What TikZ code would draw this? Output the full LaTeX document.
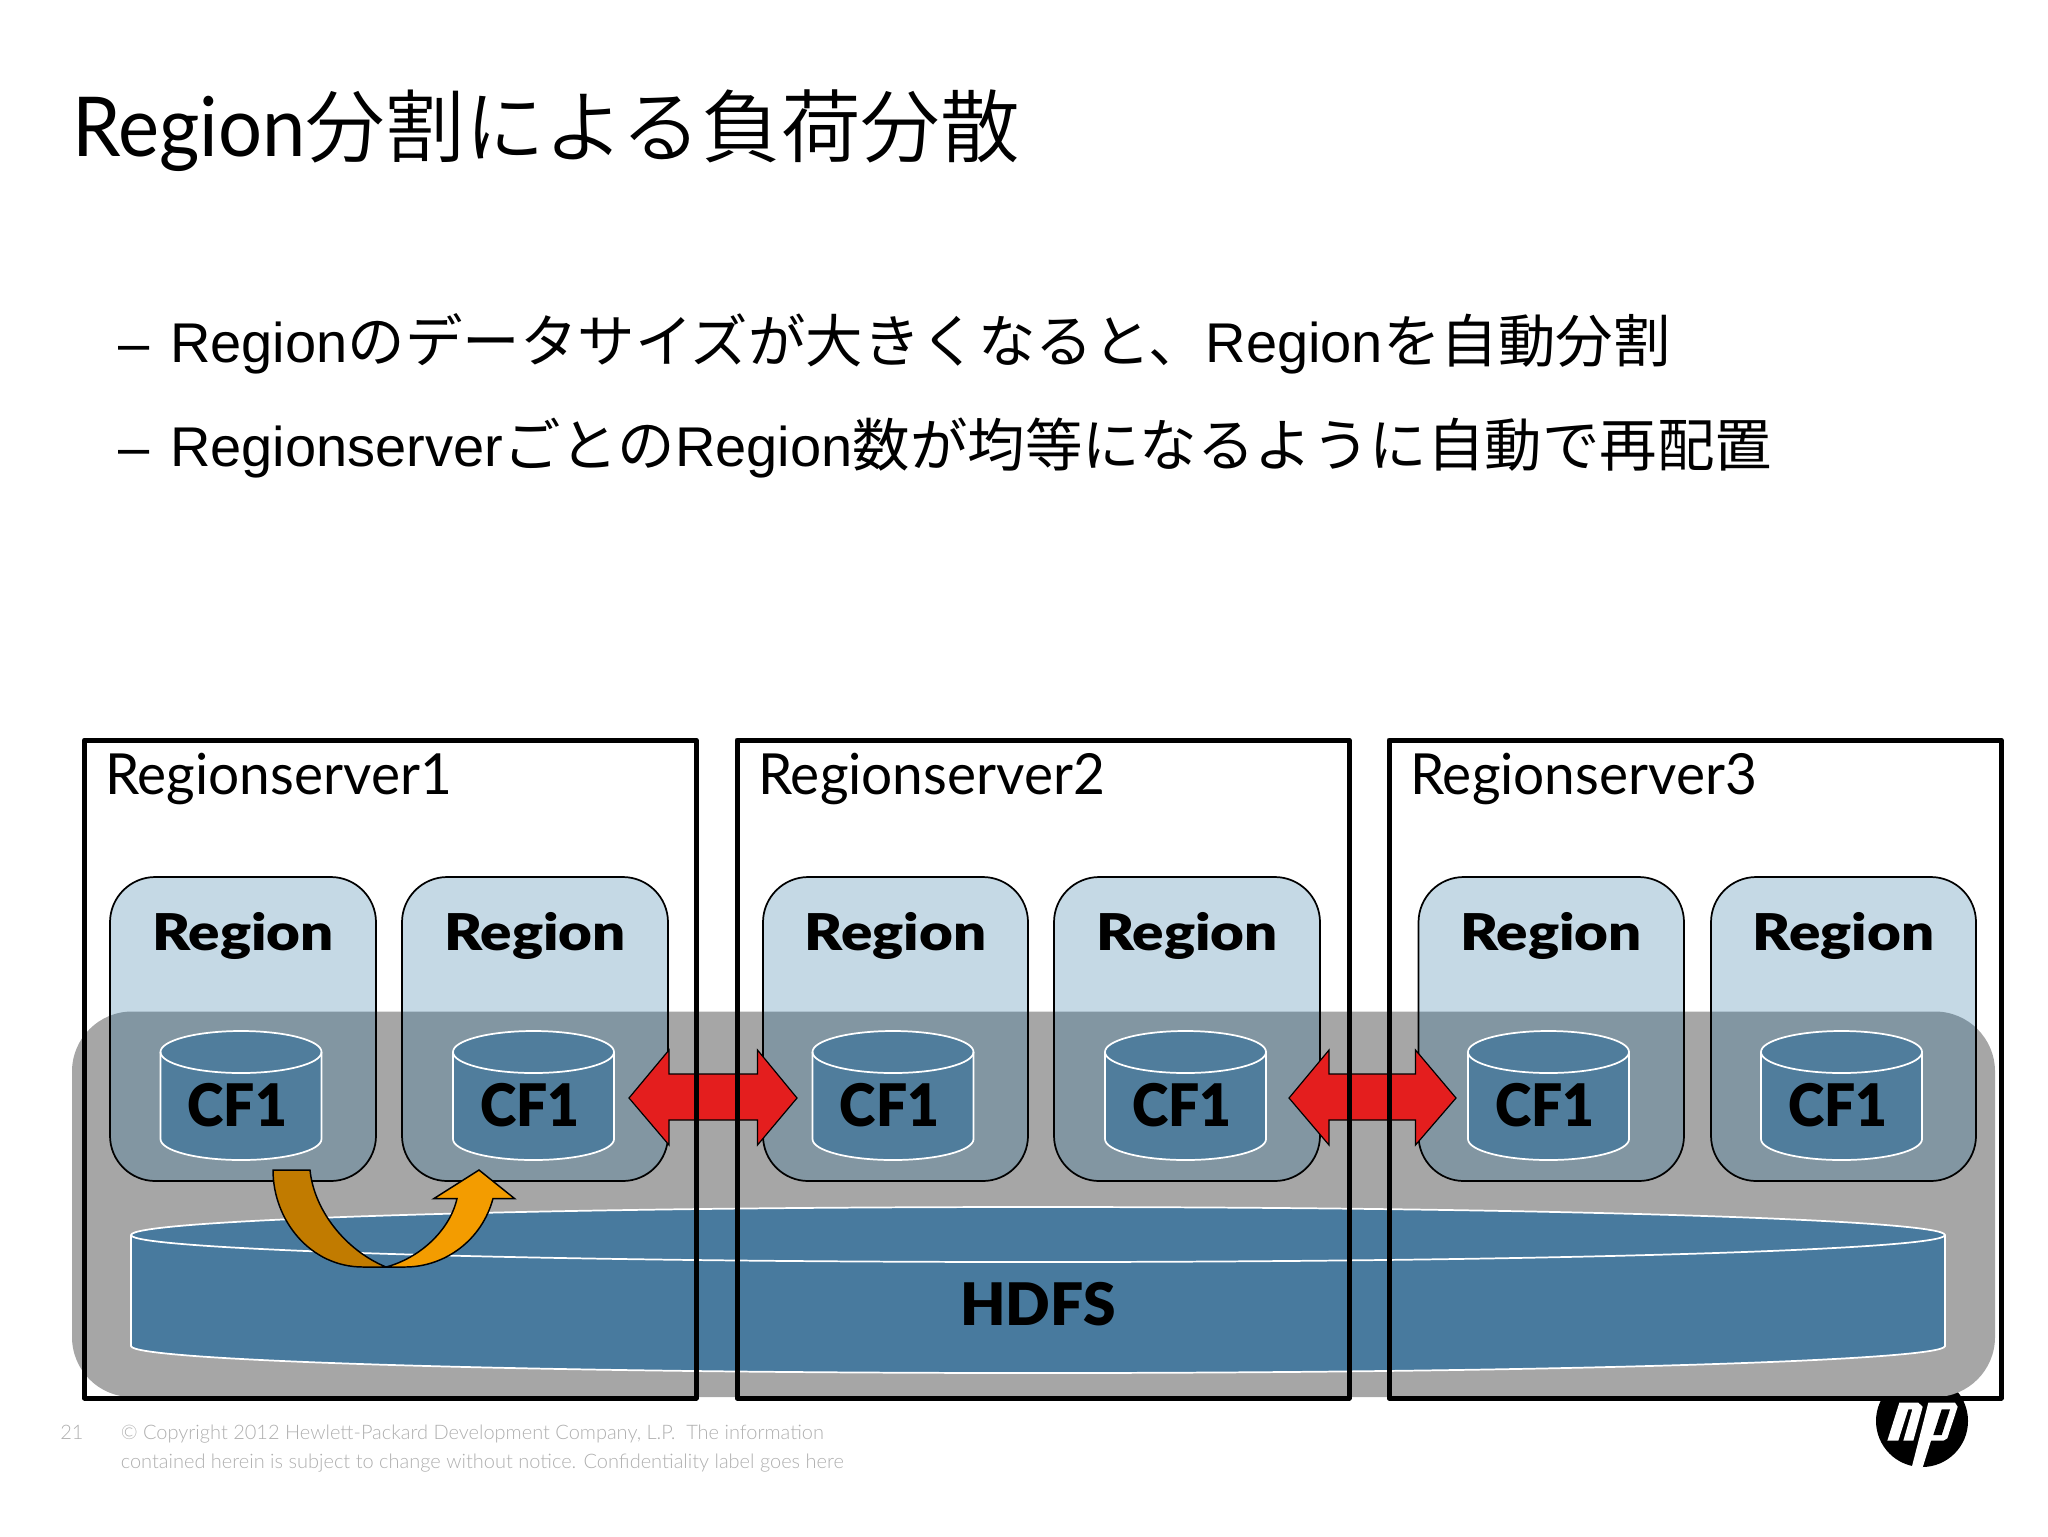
\documentclass[tikz,border=0pt]{standalone}
\usepackage{fontspec}
\setmainfont{Liberation Sans}
\newfontfamily\jpfont{Noto Sans CJK JP}
\newfontfamily\jptitlefont{Noto Sans CJK JP DemiLight}
\newfontfamily\titlefont[FakeStretch=0.94]{Lato}
\newfontfamily\thinfont[FakeStretch=0.97]{Lato}
\newfontfamily\lightfont{Lato Light}
\newfontfamily\heavyfont[FakeStretch=1.15]{Lato Black}
\newfontfamily\cffont[FakeStretch=0.94]{Lato Black}
\newfontfamily\hdfsfont{Lato Black}
\tikzset{
  txt/.style={inner sep=0pt,anchor=base west},
  titletxt/.style={txt,font=\fontsize{59.7}{70}\selectfont},
  bullettxt/.style={txt,font=\fontsize{42}{50}\selectfont},
  servertxt/.style={txt,font=\thinfont\fontsize{42.5}{50}\selectfont},
  regiontxt/.style={inner sep=0pt,anchor=base,font=\heavyfont\fontsize{38}{46}\selectfont},
  cftxt/.style={inner sep=0pt,anchor=base,font=\cffont\fontsize{44}{52}\selectfont},
  hdfstxt/.style={inner sep=0pt,anchor=base,font=\hdfsfont\fontsize{44}{52}\selectfont},
  foottxt/.style={txt,text={rgb, 255:red, 175; green, 175; blue, 175 },font=\lightfont\fontsize{15}{18}\selectfont},
  backbox/.style={fill={rgb, 255:red, 166; green, 166; blue, 166 },rounded corners=45pt},
  serverbox/.style={draw=black,line width=3.75pt,line join=round},
  regionbox/.style={draw=black,line width=1.3pt,rounded corners=34pt,fill={rgb, 255:red, 24; green, 104; blue, 152 },fill opacity=0.25},
  can/.style={draw=white,line width=1.3pt,fill={rgb, 255:red, 80; green, 125; blue, 156 }},
  rim/.style={draw=white,line width=1.3pt},
  bigcan/.style={draw=white,line width=1.3pt,fill={rgb, 255:red, 72; green, 122; blue, 158 }},
  redarrow/.style={draw=black,line width=0.9pt,line join=miter,fill={rgb, 255:red, 228; green, 30; blue, 30 }},
  brownarrow/.style={draw=black,line width=1.1pt,fill={rgb, 255:red, 193; green, 123; blue, 0 }},
  orangearrow/.style={draw=black,line width=1.1pt,fill={rgb, 255:red, 243; green, 156; blue, 0 }}
}
\begin{document}
\begin{tikzpicture}[x=0.75pt,y=0.75pt,yscale=-1,xscale=1]
\useasboundingbox (0,0) rectangle (2048,1536);

%Shape: Logo
\fill [black] (1922,1421) circle [radius=46];
\fill [white] (1899.3,1402.7) -- (1918.3,1402.7) -- (1922.7,1406.7) -- (1913.3,1440.7) -- (1903.3,1440.7) -- (1912.3,1409.3) -- (1908.3,1409.3) -- (1898.3,1440.7) -- (1887.3,1440.7) -- cycle ;
\fill [white] (1928.3,1402.7) -- (1955,1402.7) -- (1957.7,1406.7) -- (1947.3,1438.3) -- (1943.3,1440.7) -- (1931,1440.7) -- (1922.7,1467.3) -- (1911.7,1467.3) -- cycle ;
\fill [black] (1941.7,1409.3) -- (1950,1409.3) -- (1941.7,1435) -- (1933.3,1435) -- cycle ;

%Shape: Rectangle
\fill [backbox] (72,1011.5) rectangle (1995,1397) ;

%Shape: Can
\draw [bigcan] (131,1235) .. controls (131,1219.5) and (537,1207) .. (1038,1207) .. controls (1539,1207) and (1945,1219.5) .. (1945,1235) -- (1945,1346) .. controls (1945,1361) and (1539,1373) .. (1038,1373) .. controls (537,1373) and (131,1361) .. (131,1346) -- cycle ;
\draw [rim] (1945,1235) .. controls (1945,1250) and (1539,1262) .. (1038,1262) .. controls (537,1262) and (131,1250) .. (131,1235) ;

%Shape: Rounded Rectangle
\draw [regionbox] (110,877) rectangle (376,1181) ;
\draw [regionbox] (402,877) rectangle (668,1181) ;
\draw [regionbox] (763,877) rectangle (1028,1181) ;
\draw [regionbox] (1054,877) rectangle (1320,1181) ;
\draw [regionbox] (1418.5,877) rectangle (1684,1181) ;
\draw [regionbox] (1711,877) rectangle (1976,1181) ;

%Shape: Can
\draw [can] (160.5,1052) .. controls (160.5,1040.4) and (196.5,1031) .. (241,1031) .. controls (285.5,1031) and (321.5,1040.4) .. (321.5,1052) -- (321.5,1139) .. controls (321.5,1150.6) and (285.5,1160) .. (241,1160) .. controls (196.5,1160) and (160.5,1150.6) .. (160.5,1139) -- cycle ;
\draw [rim] (321.5,1052) .. controls (321.5,1063.6) and (285.5,1073) .. (241,1073) .. controls (196.5,1073) and (160.5,1063.6) .. (160.5,1052) ;
\draw [can] (453,1052) .. controls (453,1040.4) and (489,1031) .. (533.5,1031) .. controls (578,1031) and (614,1040.4) .. (614,1052) -- (614,1139) .. controls (614,1150.6) and (578,1160) .. (533.5,1160) .. controls (489,1160) and (453,1150.6) .. (453,1139) -- cycle ;
\draw [rim] (614,1052) .. controls (614,1063.6) and (578,1073) .. (533.5,1073) .. controls (489,1073) and (453,1063.6) .. (453,1052) ;
\draw [can] (812.5,1052) .. controls (812.5,1040.4) and (848.5,1031) .. (893,1031) .. controls (937.5,1031) and (973.5,1040.4) .. (973.5,1052) -- (973.5,1139) .. controls (973.5,1150.6) and (937.5,1160) .. (893,1160) .. controls (848.5,1160) and (812.5,1150.6) .. (812.5,1139) -- cycle ;
\draw [rim] (973.5,1052) .. controls (973.5,1063.6) and (937.5,1073) .. (893,1073) .. controls (848.5,1073) and (812.5,1063.6) .. (812.5,1052) ;
\draw [can] (1105,1052) .. controls (1105,1040.4) and (1141,1031) .. (1185.5,1031) .. controls (1230,1031) and (1266,1040.4) .. (1266,1052) -- (1266,1139) .. controls (1266,1150.6) and (1230,1160) .. (1185.5,1160) .. controls (1141,1160) and (1105,1150.6) .. (1105,1139) -- cycle ;
\draw [rim] (1266,1052) .. controls (1266,1063.6) and (1230,1073) .. (1185.5,1073) .. controls (1141,1073) and (1105,1063.6) .. (1105,1052) ;
\draw [can] (1468,1052) .. controls (1468,1040.4) and (1504,1031) .. (1548.5,1031) .. controls (1593,1031) and (1629,1040.4) .. (1629,1052) -- (1629,1139) .. controls (1629,1150.6) and (1593,1160) .. (1548.5,1160) .. controls (1504,1160) and (1468,1150.6) .. (1468,1139) -- cycle ;
\draw [rim] (1629,1052) .. controls (1629,1063.6) and (1593,1073) .. (1548.5,1073) .. controls (1504,1073) and (1468,1063.6) .. (1468,1052) ;
\draw [can] (1761,1052) .. controls (1761,1040.4) and (1797,1031) .. (1841.5,1031) .. controls (1886,1031) and (1922,1040.4) .. (1922,1052) -- (1922,1139) .. controls (1922,1150.6) and (1886,1160) .. (1841.5,1160) .. controls (1797,1160) and (1761,1150.6) .. (1761,1139) -- cycle ;
\draw [rim] (1922,1052) .. controls (1922,1063.6) and (1886,1073) .. (1841.5,1073) .. controls (1797,1073) and (1761,1063.6) .. (1761,1052) ;

%Curve Lines
\draw [brownarrow] (273,1170) -- (310,1170) .. controls (314,1210) and (345,1250) .. (386,1267) -- (363,1267) .. controls (310,1267) and (273,1220) .. (273,1170) -- cycle ;
\draw [orangearrow] (386,1267) .. controls (420,1258) and (450,1230) .. (457,1198.5) -- (434,1198.5) -- (479,1170) -- (514.5,1198.5) -- (493,1198.5) .. controls (482,1240) and (445,1267) .. (405,1267) -- cycle ;

%Shape: Left-Right Arrow
\draw [redarrow] (629,1098) -- (669,1050) -- (669,1074) -- (757.5,1074) -- (757.5,1050) -- (797,1098) -- (757.5,1145) -- (757.5,1120) -- (669,1120) -- (669,1145) -- cycle ;
\draw [redarrow] (1289,1098) -- (1329,1050) -- (1329,1074) -- (1415.5,1074) -- (1415.5,1050) -- (1456,1098) -- (1415.5,1145) -- (1415.5,1120) -- (1329,1120) -- (1329,1145) -- cycle ;

%Shape: Rectangle
\draw [serverbox] (84.5,740) rectangle (696,1398) ;
\draw [serverbox] (737,740) rectangle (1349,1398) ;
\draw [serverbox] (1389,740) rectangle (2001,1398) ;

% Text Node
\draw (72,156) node [titletxt] (title) {{\titlefont\fontsize{62}{70}\selectfont Region}{\jptitlefont 分割による負荷分散}};
\draw (118,362) node [bullettxt] (dasha) {–};
\draw (170,362) node [bullettxt] (linea) {Region{\jpfont\fontsize{43.1}{50}\selectfont のデータサイズが大きくなると、}Region{\jpfont\fontsize{43.1}{50}\selectfont を自動分割}};
\draw (118,466) node [bullettxt] (dashb) {–};
\draw (170,466) node [bullettxt] (lineb) {Regionserver{\jpfont\fontsize{43.1}{50}\selectfont ごとの}Region{\jpfont\fontsize{43.1}{50}\selectfont 数が均等になるように自動で再配置}};

\draw (105,794) node [servertxt] (servera) {Regionserver1};
\draw (758,794) node [servertxt] (serverb) {Regionserver2};
\draw (1410,794) node [servertxt] (serverc) {Regionserver3};

\draw (243,950) node [regiontxt] (regiona) {Region};
\draw (535,950) node [regiontxt] (regionb) {Region};
\draw (895.5,950) node [regiontxt] (regionc) {Region};
\draw (1187,950) node [regiontxt] (regiond) {Region};
\draw (1551,950) node [regiontxt] (regione) {Region};
\draw (1843.5,950) node [regiontxt] (regionf) {Region};

\draw (237.5,1126) node [cftxt] (cfa) {CF1};
\draw (530,1126) node [cftxt] (cfb) {CF1};
\draw (889.5,1126) node [cftxt] (cfc) {CF1};
\draw (1182,1126) node [cftxt] (cfd) {CF1};
\draw (1545,1126) node [cftxt] (cfe) {CF1};
\draw (1838,1126) node [cftxt] (cff) {CF1};

\draw (1038,1325) node [hdfstxt] (hdfs) {HDFS};

\draw (60,1439) node [foottxt] (pagenum) {21};
\draw (120.5,1439) node [foottxt] (foota) {© Copyright 2012 Hewlett-Packard Development Company, L.P.\ \ The information};
\draw (120.5,1468) node [foottxt] (footb) {contained herein is subject to change without notice. Confidentiality label goes here};
\end{tikzpicture}
\end{document}
